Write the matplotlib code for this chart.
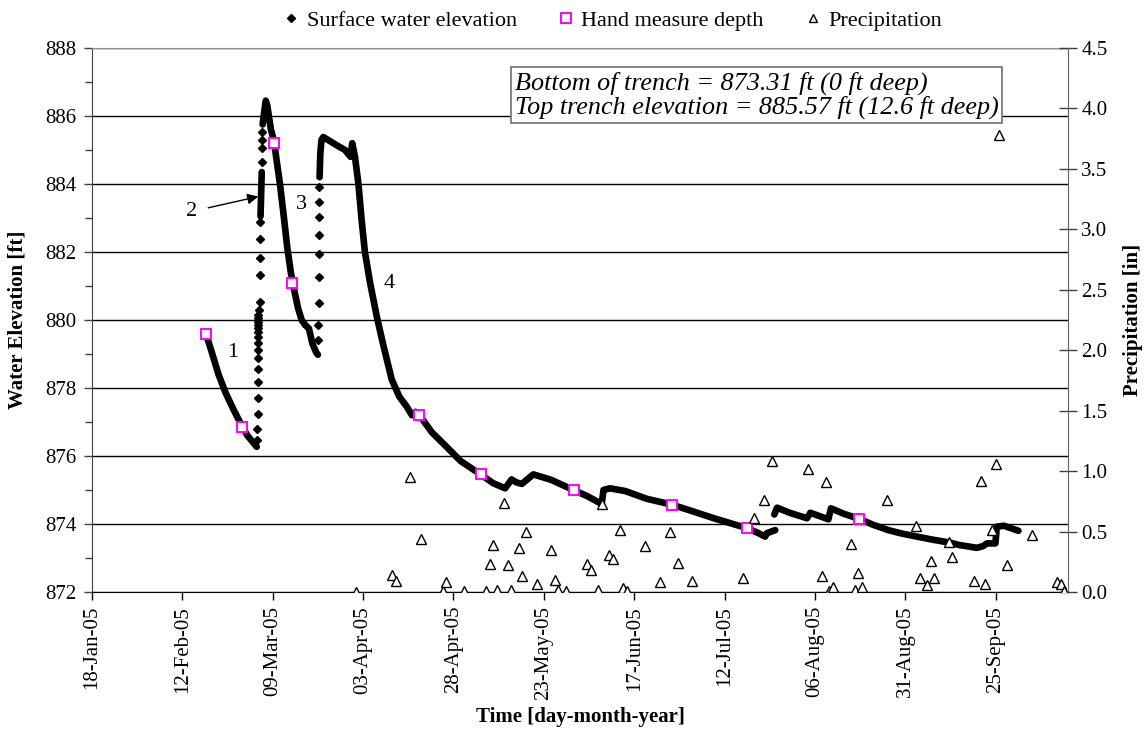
import pandas as pd
import matplotlib
matplotlib.use("Agg")
import matplotlib.pyplot as plt
import matplotlib.dates as mdates
from matplotlib.ticker import MultipleLocator, FormatStrFormatter
from matplotlib.lines import Line2D

plt.rcParams["font.family"] = ["Liberation Serif", "DejaVu Serif"]

# ----------------------------------
# Data
# ----------------------------------
# logger record, dense parts drawn as a thick trace
rec1_time = ["2005-02-18 12:00", "2005-02-20", "2005-02-22", "2005-02-24", "2005-02-26",
             "2005-02-28", "2005-03-02", "2005-03-04 14:00"]
rec1_elev = [879.6, 879.1, 878.4, 877.85, 877.4, 876.98, 876.6, 876.27]

rec2_time = ["2005-03-05 15:00", "2005-03-05 23:00"]
rec2_elev = [883.05, 884.35]

rec3_time = ["2005-03-06 05:00", "2005-03-06 18:00", "2005-03-07 02:00", "2005-03-07 12:00",
             "2005-03-08 00:00", "2005-03-08 12:00", "2005-03-09 00:00", "2005-03-09 12:00",
             "2005-03-10", "2005-03-11", "2005-03-12", "2005-03-13", "2005-03-14",
             "2005-03-15", "2005-03-16", "2005-03-17", "2005-03-18", "2005-03-19",
             "2005-03-20", "2005-03-21", "2005-03-21 12:00"]
rec3_elev = [885.75, 886.2, 886.45, 886.3, 885.95, 885.6, 885.4, 885.15, 884.75, 884.0,
             883.1, 882.15, 881.4, 880.85, 880.35, 880.0, 879.85, 879.75, 879.3, 879.05,
             878.98]

rec4_time = ["2005-03-21 23:00", "2005-03-22 04:00", "2005-03-22 12:00", "2005-03-23",
             "2005-03-25", "2005-03-27", "2005-03-29", "2005-03-30 12:00", "2005-03-31",
             "2005-03-31 18:00", "2005-04-01 17:00", "2005-04-02 14:00", "2005-04-03 12:00",
             "2005-04-04 22:00", "2005-04-06 19:00", "2005-04-08 12:00", "2005-04-10 22:00",
             "2005-04-13", "2005-04-15 02:00", "2005-04-16 12:00", "2005-04-17 12:00",
             "2005-04-18 14:00", "2005-04-22", "2005-04-26 02:00", "2005-04-30",
             "2005-05-05 12:00", "2005-05-09", "2005-05-12 07:00", "2005-05-14 02:00",
             "2005-05-15 12:00", "2005-05-16 22:00", "2005-05-20 02:00", "2005-05-25",
             "2005-05-31 10:00", "2005-06-04", "2005-06-08", "2005-06-08 12:00",
             "2005-06-10 07:00", "2005-06-14 12:00", "2005-06-20 12:00", "2005-06-27 10:00",
             "2005-07-03", "2005-07-09", "2005-07-15", "2005-07-18 02:00", "2005-07-21",
             "2005-07-23 05:00", "2005-07-23 17:00", "2005-07-26"]
rec4_elev = [884.2, 884.9, 885.3, 885.38, 885.25, 885.12, 885.0, 884.8, 885.2, 884.8,
             884.0, 882.95, 882.0, 881.1, 880.1, 879.3, 878.25, 877.75, 877.45, 877.2,
             877.3, 877.2, 876.7, 876.27, 875.85, 875.46, 875.2, 875.05, 875.31, 875.22,
             875.18, 875.46, 875.3, 874.99, 874.82, 874.59, 875.0, 875.05, 874.97, 874.74,
             874.57, 874.38, 874.17, 873.98, 873.88, 873.75, 873.63, 873.73, 873.82]

rec5_time = ["2005-07-25 18:00", "2005-07-26 12:00", "2005-07-30", "2005-08-03 19:00",
             "2005-08-04 17:00", "2005-08-06", "2005-08-09 17:00", "2005-08-10 10:00",
             "2005-08-14", "2005-08-18 07:00", "2005-08-22", "2005-08-26 07:00",
             "2005-08-30", "2005-09-03 05:00", "2005-09-07", "2005-09-12 10:00",
             "2005-09-15", "2005-09-19 19:00", "2005-09-21 12:00", "2005-09-22 14:00",
             "2005-09-24 22:00", "2005-09-25 07:00", "2005-09-27 05:00", "2005-10-01 07:00"]
rec5_elev = [874.28, 874.48, 874.33, 874.17, 874.33, 874.28, 874.14, 874.46, 874.3, 874.15,
             873.98, 873.82, 873.72, 873.63, 873.55, 873.45, 873.38, 873.30, 873.35, 873.43,
             873.43, 873.92, 873.95, 873.80]

# sparse logger readings during the fast rises (events 2 and 3)
rise2_time = ["2005-03-04 18:00", "2005-03-04 18:30", "2005-03-04 19:00", "2005-03-04 19:30",
              "2005-03-04 20:00", "2005-03-04 20:30", "2005-03-04 21:00", "2005-03-04 21:30",
              "2005-03-04 22:00", "2005-03-04 22:30", "2005-03-04 23:00", "2005-03-04 23:30",
              "2005-03-05 00:00", "2005-03-05 00:30", "2005-03-05 01:00", "2005-03-05 01:30",
              "2005-03-05 04:00", "2005-03-05 10:00", "2005-03-05 11:00", "2005-03-05 12:00",
              "2005-03-05 13:00", "2005-03-05 14:00", "2005-03-06 00:00", "2005-03-06 01:00",
              "2005-03-06 02:00", "2005-03-06 03:00"]
rise2_elev = [876.47, 876.78, 877.24, 877.72, 878.17, 878.55, 878.87, 879.12, 879.33,
              879.51, 879.66, 879.76, 879.85, 879.95, 880.05, 880.15, 880.29, 880.54,
              881.32, 881.83, 882.37, 882.89, 884.64, 885.05, 885.29, 885.54]

rise3_time = ["2005-03-21 14:00", "2005-03-21 15:00", "2005-03-21 16:00", "2005-03-21 17:00",
              "2005-03-21 18:00", "2005-03-21 19:00", "2005-03-21 20:00", "2005-03-21 21:00",
              "2005-03-21 22:00"]
rise3_elev = [879.4, 879.85, 880.5, 881.25, 881.93, 882.5, 883.04, 883.48, 883.92]

# hand measurements
hand_time = ["2005-02-18 12:00", "2005-02-28 14:00", "2005-03-09 10:00", "2005-03-14 10:00",
             "2005-04-18 14:00", "2005-05-05 12:00", "2005-05-31 10:00", "2005-06-27 10:00",
             "2005-07-18 02:00", "2005-08-18 07:00"]
hand_elev = [879.58, 876.85, 885.2, 881.1, 877.21, 875.46, 874.99, 874.57, 873.88, 874.15]

# daily precipitation [in]
rain_date = ["2005-04-01", "2005-04-11", "2005-04-12", "2005-04-16", "2005-04-19",
             "2005-04-25", "2005-04-26", "2005-05-01", "2005-05-07", "2005-05-08",
             "2005-05-09", "2005-05-10", "2005-05-12", "2005-05-13", "2005-05-14",
             "2005-05-16", "2005-05-17", "2005-05-18", "2005-05-21", "2005-05-25",
             "2005-05-26", "2005-05-27", "2005-05-29", "2005-06-04", "2005-06-05",
             "2005-06-07", "2005-06-08", "2005-06-10", "2005-06-11", "2005-06-13",
             "2005-06-14", "2005-06-15", "2005-06-20", "2005-06-24", "2005-06-27",
             "2005-06-29", "2005-07-03", "2005-07-17", "2005-07-20", "2005-07-23",
             "2005-07-25", "2005-08-04", "2005-08-08", "2005-08-09", "2005-08-10",
             "2005-08-11", "2005-08-16", "2005-08-17", "2005-08-18", "2005-08-19",
             "2005-08-26", "2005-09-03", "2005-09-04", "2005-09-06", "2005-09-07",
             "2005-09-08", "2005-09-12", "2005-09-13", "2005-09-19", "2005-09-21",
             "2005-09-22", "2005-09-24", "2005-09-25", "2005-09-26", "2005-09-28",
             "2005-10-05", "2005-10-12", "2005-10-13", "2005-10-14"]
rain_in = [0.0, 0.14, 0.09, 0.95, 0.44, 0.01, 0.08, 0.01, 0.01, 0.23,
           0.39, 0.02, 0.74, 0.22, 0.02, 0.36, 0.13, 0.50, 0.07, 0.35,
           0.10, 0.02, 0.01, 0.23, 0.18, 0.02, 0.73, 0.31, 0.27, 0.51,
           0.03, 0.01, 0.38, 0.08, 0.50, 0.24, 0.09, 0.12, 0.61, 0.76,
           1.08, 1.02, 0.13, 0.91, 0.01, 0.04, 0.40, 0.02, 0.16, 0.04,
           0.76, 0.55, 0.12, 0.06, 0.26, 0.12, 0.41, 0.29, 0.09, 0.92,
           0.07, 0.51, 1.06, 3.78, 0.22, 0.47, 0.08, 0.07, 0.01]

x_start, x_end = "2005-01-18", "2005-10-15"


def t(s):
    return pd.to_datetime(s, format="ISO8601")


# ----------------------------------
# Figure
# ----------------------------------
fig = plt.figure(figsize=(11.44, 7.29), dpi=100)
ax = fig.add_axes([0.0804, 0.1879, 0.8532, 0.7463])
ax2 = ax.twinx()

trace = dict(color="black", lw=4.8, solid_capstyle="round", solid_joinstyle="round", zorder=3)
for tt, vv in [(rec1_time, rec1_elev), (rec2_time, rec2_elev), (rec3_time, rec3_elev),
               (rec4_time, rec4_elev), (rec5_time, rec5_elev)]:
    ax.plot(t(tt), vv, **trace)
for tt, vv in [(rise2_time, rise2_elev), (rise3_time, rise3_elev)]:
    ax.plot(t(tt), vv, ls="none", marker="D", ms=4.2, color="black", zorder=3)

ax.plot(t(hand_time), hand_elev, ls="none", marker="s", ms=7.5, mfc="white",
        mec="#FF00FF", mew=1.4, zorder=5)

ax2.plot(t(rain_date), rain_in, ls="none", marker="^", ms=7, mfc="white",
         mec="black", mew=1.0, zorder=6)

# axes, ticks, grid
ax.set_xlim(t(x_start), t(x_end))
ax.set_ylim(872, 888)
ax2.set_ylim(0, 4.5)
ax.set_xticks(pd.date_range(x_start, "2005-09-25", freq="25D"))
ax.xaxis.set_major_formatter(mdates.DateFormatter("%d-%b-%y"))
ax.yaxis.set_major_locator(MultipleLocator(2))
ax.yaxis.set_minor_locator(MultipleLocator(1))
ax2.yaxis.set_major_locator(MultipleLocator(0.5))
ax2.yaxis.set_major_formatter(FormatStrFormatter("%.1f"))
ax.grid(axis="y", which="major", color="black", lw=1.0)
ax.set_axisbelow(True)

ax.tick_params(axis="x", direction="out", length=6, width=1, labelsize=15,
               labelrotation=90, pad=4)
ax.tick_params(axis="y", which="major", direction="out", length=6, width=1,
               labelsize=15, pad=5, color="#404040")
ax.tick_params(axis="y", which="minor", direction="out", length=5, width=1, color="#404040")
ax2.tick_params(axis="y", direction="inout", length=13, width=1, labelsize=15,
                pad=3, color="#404040")

ax.spines["top"].set_color("#909090")
ax.spines["left"].set_color("#404040")
ax.spines["bottom"].set_color("black")
ax2.spines["right"].set_color("#606060")
for s in ["left", "top", "bottom"]:
    ax2.spines[s].set_visible(False)
ax.spines["right"].set_visible(False)

fig.text(18 / 1144, 1 - 320 / 729, "Water Elevation [ft]", rotation=90, ha="center",
         va="center", fontsize=15, fontweight="bold")
fig.text(1133 / 1144, 1 - 320 / 729, "Precipitation [in]", rotation=90, ha="center",
         va="center", fontsize=15, fontweight="bold")
fig.text(580 / 1144, 1 - 717 / 729, "Time [day-month-year]", ha="center", va="center",
         fontsize=15, fontweight="bold")

# event labels
ax.text(t("2005-02-25 22:00"), 879.04, "1", fontsize=16, ha="center", va="center")
ax.annotate("2", xy=(t("2005-03-05"), 883.63), xytext=(t("2005-02-14 14:00"), 883.19),
            fontsize=16, ha="center", va="center",
            arrowprops=dict(arrowstyle="-|>", color="black", lw=1.0, mutation_scale=16,
                            shrinkA=6, shrinkB=0))
ax.text(t("2005-03-17"), 883.41, "3", fontsize=16, ha="center", va="center")
ax.text(t("2005-04-10 07:00"), 881.08, "4", fontsize=16, ha="center", va="center")

ax.text(0.433, 0.957, "Bottom of trench = 873.31 ft (0 ft deep)\n"
        "Top trench elevation = 885.57 ft (12.6 ft deep)",
        transform=ax.transAxes, ha="left", va="top", fontsize=18.8, style="italic",
        linespacing=1.05, zorder=10,
        bbox=dict(boxstyle="square,pad=0.15", fc="white", ec="#707070", lw=1.2))

handles = [
    Line2D([], [], ls="none", marker="D", ms=4, color="black"),
    Line2D([], [], ls="none", marker="s", ms=7.5, mfc="white", mec="#FF00FF", mew=1.4),
    Line2D([], [], ls="none", marker="^", ms=6, mfc="white", mec="black", mew=1.0),
]
fig.legend(handles, ["Surface water elevation", "Hand measure depth", "Precipitation"],
           loc="center", bbox_to_anchor=(0.535, 0.972), ncol=3, frameon=False,
           fontsize=16, handlelength=0.8, handletextpad=0.3, columnspacing=1.8)

fig.savefig("out.png", dpi=100)
